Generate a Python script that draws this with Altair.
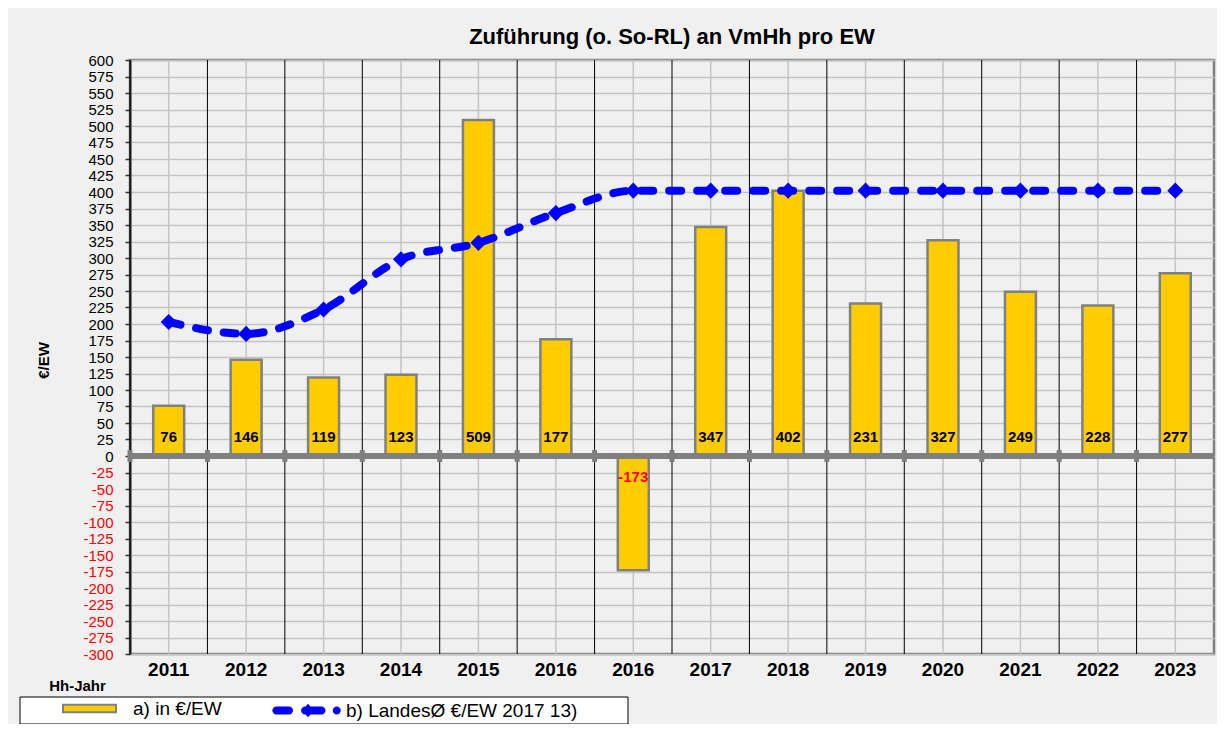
import json
import altair as alt
import pandas as pd

# ---- data ----
years = ["2011", "2012", "2013", "2014", "2015", "2016", "2016",
         "2017", "2018", "2019", "2020", "2021", "2022", "2023"]
values = [76, 146, 119, 123, 509, 177, -173, 347, 402, 231, 327, 249, 228, 277]
landes = [203, 185, 222, 298, 323, 368, 402, 402, 402, 402, 402, 402, 402, 402]
y_ticks = list(range(-300, 601, 25))

title_text = "Zuführung (o. So-RL) an VmHh pro EW"
bar_name = "a) in €/EW"
line_name = "b) LandesØ €/EW 2017 13)"
y_title = "€/EW"
x_title = "Hh-Jahr"

df = pd.DataFrame({"pos": list(range(len(years))), "value": values, "landes": landes})

W, H = 1084, 594
FONT = "Liberation Sans"

x_scale = alt.Scale(paddingInner=0, paddingOuter=0)
x_axis = alt.Axis(
    labelExpr=f"{json.dumps(years)}[datum.value]", labelAngle=0, labelFont=FONT,
    labelFontSize=19, labelFontWeight="bold", labelColor="black", labelPadding=15,
    labelBaseline="middle", ticks=False, domain=False, grid=False,
    titleX=-53, titleY=31, titleFont=FONT, titleFontSize=15, titleFontWeight="bold",
    titleAlign="center", titleBaseline="middle", titleColor="black",
)
y_scale = alt.Scale(domain=[-300, 600], nice=False)
y_axis = alt.Axis(
    values=y_ticks, labelFont=FONT, labelFontSize=15, labelExpr="'' + datum.value",
    labelColor={"condition": {"test": "datum.value < 0", "value": "#FF0000"}, "value": "#000000"},
    labelPadding=12, tickSize=5, tickWidth=1.5, tickColor="#333333",
    domainColor="#333333", domainWidth=2, grid=True, gridColor="#C4C4C4", gridWidth=1.5,
    titleFont=FONT, titleFontSize=15, titleFontWeight="bold", titleColor="black",
    titleX=-87, titleY=300, titleAngle=-90, titleAlign="center", titleBaseline="middle",
)


def X(**kw):
    return alt.X("pos:O", title=x_title, scale=x_scale, axis=x_axis, **kw)


def Y(field):
    return alt.Y(f"{field}:Q", title=y_title, scale=y_scale, axis=y_axis)


def YD(v):
    return alt.YDatum(v, title=y_title, scale=y_scale, axis=y_axis)


base = alt.Chart(df).transform_calculate(lbl="'' + datum.value")

center_rules = base.mark_rule(color="#C4C4C4", strokeWidth=1.5).encode(x=X())
bound_rules = base.mark_rule(color="#000000", strokeWidth=1).encode(x=X(bandPosition=0))

bars = base.mark_bar(width={"band": 0.4}, color="#FFCC00", stroke="#808080",
                     strokeWidth=2.5).encode(x=X(), y=Y("value"), y2=alt.Y2Datum(0))

zero_line = base.mark_rule(color="#808080", strokeWidth=5).encode(y=YD(0))
zero_ticks = base.mark_rule(color="#808080", strokeWidth=5).encode(
    x=X(bandPosition=0), y=YD(-9), y2=alt.Y2Datum(9))

line = base.mark_line(color="#0000FF", strokeWidth=8, strokeDash=[12, 16],
                      strokeCap="round", interpolate="monotone").encode(x=X(), y=Y("landes"))
diamonds = base.mark_point(shape="diamond", filled=True, size=260, color="#0000FF",
                           opacity=1).encode(x=X(), y=Y("landes"))

txt_pos = base.transform_filter("datum.value >= 0").mark_text(
    font=FONT, fontSize=15, fontWeight="bold", color="#000000", dy=-19, baseline="middle"
).encode(x=X(), y=YD(0), text="lbl:N")
txt_neg = base.transform_filter("datum.value < 0").mark_text(
    font=FONT, fontSize=15, fontWeight="bold", color="#FF0000", dy=21, baseline="middle"
).encode(x=X(), y=YD(0), text="lbl:N")

# ---- legend ----
one = alt.Chart(pd.DataFrame({"k": [0]}))
legend_box = one.mark_rect(fill="#FFFFFF", stroke="#000000", strokeWidth=1).encode(
    x=alt.value(-110), x2=alt.value(498), y=alt.value(637), y2=alt.value(664))


def pill(x1, x2, h):
    return f"M{x1},{-h}H{x2}A{h},{h} 0 0 1 {x2},{h}H{x1}A{h},{h} 0 0 1 {x1},{-h}Z"


bar_path = "M-1,-0.14H1V0.14H-1Z"
line_path = (pill(-0.875, -0.515, 0.115) + pill(-0.055, 0.415, 0.115)
             + "M-0.14,0L0.03,-0.19L0.2,0L0.03,0.19Z" + pill(0.85, 0.85, 0.115))

leg_common = dict(title=None, orient="none", padding=0, labelFont=FONT, labelFontSize=19,
                  labelColor="#000000", labelLimit=500)

leg_bar = alt.Chart(pd.DataFrame({"s": [bar_name]})).transform_filter("false").mark_point(
    filled=True, opacity=1).encode(
    fill=alt.Fill("s:N", scale=alt.Scale(domain=[bar_name], range=["#FFCC00"]),
                  legend=alt.Legend(legendX=-68, legendY=621, symbolType=bar_path,
                                    symbolSize=2809, symbolStrokeColor="#808080",
                                    symbolStrokeWidth=2, labelOffset=16, **leg_common)))
leg_line = alt.Chart(pd.DataFrame({"s": [line_name]})).transform_filter("false").mark_point(
    filled=True, opacity=1).encode(
    fill=alt.Fill("s:N", scale=alt.Scale(domain=[line_name], range=["#0000FF"]),
                  legend=alt.Legend(legendX=142, legendY=615.5, symbolType=line_path,
                                    symbolSize=4900, symbolStrokeWidth=0, labelOffset=4,
                                    **leg_common)))

chart = alt.layer(
    center_rules, bound_rules, bars, line, diamonds, zero_line, zero_ticks,
    txt_pos, txt_neg, legend_box, leg_bar, leg_line,
).resolve_scale(fill="independent").properties(
    width=W, height=H,
    title=alt.TitleParams(title_text, font=FONT, fontSize=22, fontWeight="bold", color="#000000",
                          anchor="middle", frame="group", offset=16, baseline="alphabetic",
                          dy=29),
    padding={"left": 122, "top": 52, "right": 3, "bottom": 70},
    autosize=alt.AutoSizeParams(type="none"),
).configure(background="#F0F0F0").configure_view(
    fill="#FFFFCC", stroke="#808080", strokeWidth=2.5)

chart.save("out.html", embed_options={"renderer": "svg", "actions": False})
